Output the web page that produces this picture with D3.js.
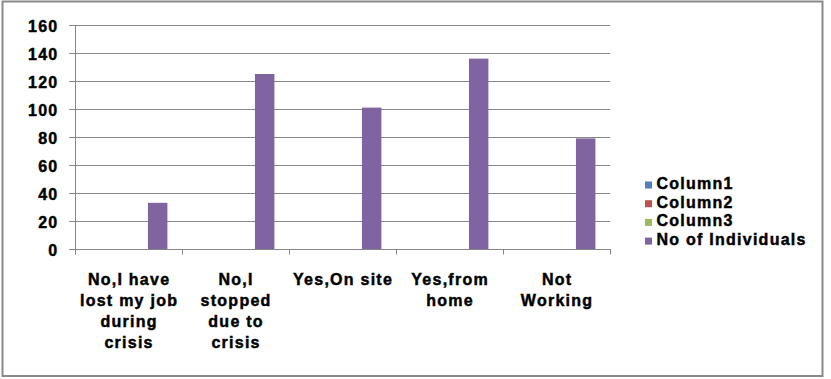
<!DOCTYPE html>
<html>
<head>
<meta charset="utf-8">
<script src="https://cdn.jsdelivr.net/npm/d3@7"></script>
<style>
  html, body { margin: 0; padding: 0; background: #fff; }
  svg { display: block; }
  text { font-family: "Liberation Sans", Arial, sans-serif; font-weight: bold; font-size: 16px; letter-spacing: 1.25px; fill: #000; stroke: #000; stroke-width: 0.45px; }
</style>
</head>
<body>
<svg id="chart" width="831" height="379"></svg>
<script>
// ---- data ----
const categories = [
  "No,I have lost my job during crisis",
  "No,I stopped due to crisis",
  "Yes,On site",
  "Yes,from home",
  "Not Working"
];
const categoryLines = [
  ["No,I have", "lost my job", "during", "crisis"],
  ["No,I", "stopped", "due to", "crisis"],
  ["Yes,On site"],
  ["Yes,from", "home"],
  ["Not", "Working"]
];
const seriesNames = ["Column1", "Column2", "Column3", "No of Individuals"];
const column1 = [null, null, null, null, null];
const column2 = [null, null, null, null, null];
const column3 = [null, null, null, null, null];
const noOfIndividuals = [33, 125, 101, 136, 79];
const seriesColors = ["#4F81BD", "#C0504D", "#9BBB59", "#8064A2"];
const yTicks = [0, 20, 40, 60, 80, 100, 120, 140, 160];

const seriesValues = [column1, column2, column3, noOfIndividuals];

// ---- layout ----
const svg = d3.select("#chart");
const plot = { left: 75, right: 610, top: 25, bottom: 249 };

// outer border
svg.append("rect")
  .attr("x", 2.5).attr("y", 1.5)
  .attr("width", 820).attr("height", 374.5)
  .attr("fill", "#fff")
  .attr("stroke", "#898989").attr("stroke-width", 2);

const x = d3.scaleBand().domain(categories).range([plot.left, plot.right]).padding(0);
const xs = d3.scaleBand().domain(seriesNames).range([0, x.bandwidth()])
  .paddingInner(0).paddingOuter(0.75);
const y = d3.scaleLinear().domain([0, 160]).range([plot.bottom, plot.top]);

const grey = "#868686";

// gridlines + left ticks
svg.append("g").selectAll("line").data(yTicks).join("line")
  .attr("x1", plot.left - 6).attr("x2", plot.right)
  .attr("y1", d => Math.round(y(d)) + 0.5).attr("y2", d => Math.round(y(d)) + 0.5)
  .attr("stroke", grey).attr("stroke-width", 1);

// y axis line
svg.append("line")
  .attr("x1", plot.left + 0.5).attr("x2", plot.left + 0.5)
  .attr("y1", plot.top).attr("y2", plot.bottom + 0.5)
  .attr("stroke", grey);

// y tick labels
svg.append("g").selectAll("text").data(yTicks).join("text")
  .attr("x", 58.5)
  .attr("y", d => y(d) + 7)
  .attr("text-anchor", "end")
  .text(d => d);

// bottom category ticks
const boundaries = categories.map(c => x(c)).concat([x(categories[categories.length - 1]) + x.bandwidth()]);
svg.append("g").selectAll("line").data(boundaries).join("line")
  .attr("x1", d => Math.round(d) + 0.5).attr("x2", d => Math.round(d) + 0.5)
  .attr("y1", plot.bottom).attr("y2", plot.bottom + 5.5)
  .attr("stroke", grey);

// bars
seriesNames.forEach((s, si) => {
  const vals = seriesValues[si];
  svg.append("g").selectAll("rect")
    .data(categories.map((c, i) => ({ c, v: vals[i] })).filter(d => d.v != null))
    .join("rect")
    .attr("x", d => x(d.c) + xs(s))
    .attr("width", xs.bandwidth())
    .attr("y", d => y(d.v))
    .attr("height", d => y(0) - y(d.v))
    .attr("fill", seriesColors[si]);
});

// category labels
const lab = svg.append("g");
categories.forEach((c, i) => {
  const cx = x(c) + x.bandwidth() / 2;
  const t = lab.append("text").attr("text-anchor", "middle");
  categoryLines[i].forEach((line, li) => {
    t.append("tspan").attr("x", cx + 0.6).attr("y", 285 + li * 21.1).text(line);
  });
});

// legend
const leg = svg.append("g");
seriesNames.forEach((s, i) => {
  const by = 189 + i * 18.7;
  leg.append("rect")
    .attr("x", 645).attr("y", by - 7.5)
    .attr("width", 7).attr("height", 7)
    .attr("fill", seriesColors[i]);
  leg.append("text").attr("x", 656.5).attr("y", by).text(s);
});
</script>
</body>
</html>
